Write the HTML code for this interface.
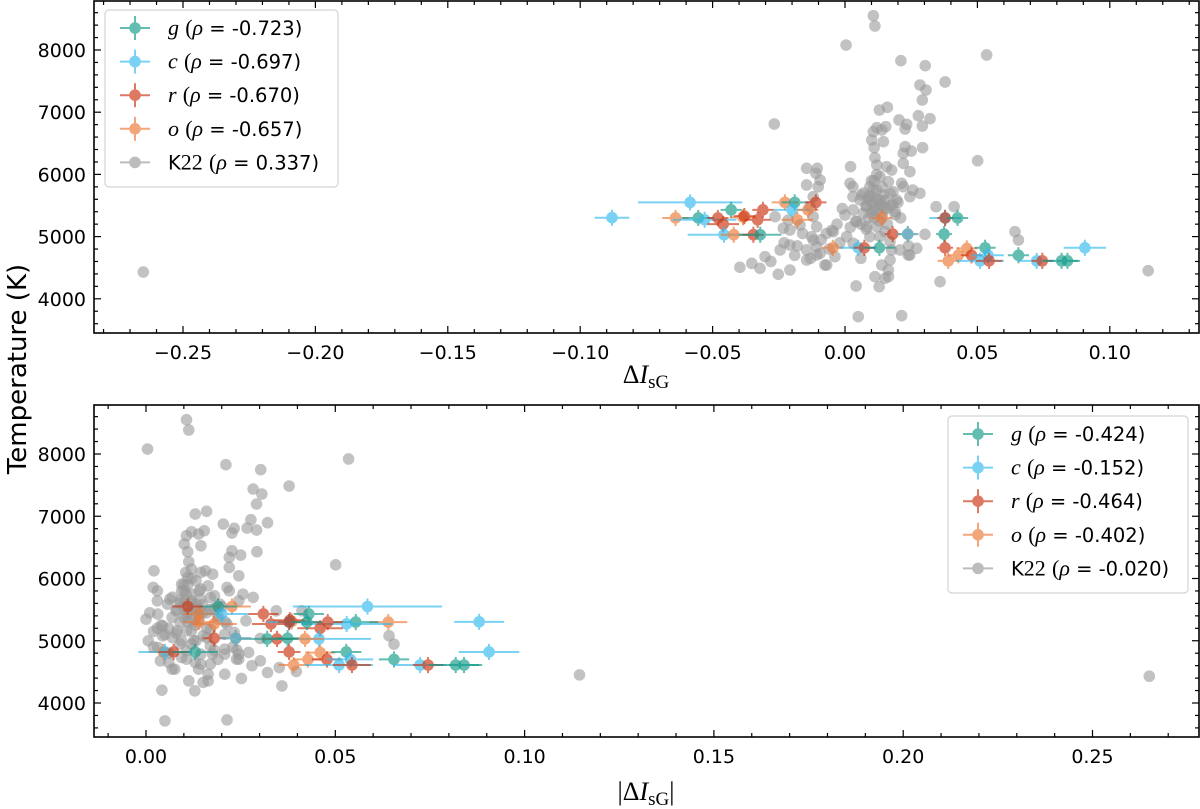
<!DOCTYPE html>
<html><head><meta charset="utf-8"><style>
body{margin:0;background:#fff;}
svg{display:block;font-family:"DejaVu Sans","Liberation Sans",sans-serif;}
</style></head><body>
<svg id="fig" width="1200" height="809" viewBox="0 0 1200 809">
<text x="26" y="369" transform="rotate(-90 26 369)" text-anchor="middle" font-size="26">Temperature (K)</text>
</svg>
<script>
// Colored series (signed ΔI_sG, temperature, x error, band)
const bandNames = ['g','c','r','o'];
const bandColors = ['#109a88','#33bbee','#cc3311','#ee7733'];
const topRho = ['-0.723','-0.697','-0.670','-0.657','0.337'];
const botRho = ['-0.424','-0.152','-0.464','-0.402','-0.020'];
const colDx = [-0.088,-0.0585,-0.064,-0.0554,-0.053,-0.048,-0.046,-0.043,-0.0385,-0.038,-0.033,-0.031,-0.0457,-0.042,-0.0346,-0.032,-0.0227,-0.019,-0.020,-0.014,-0.011,-0.018,-0.0046,0.005,0.0073,0.013,0.0139,0.018,0.0237,0.0237,0.0378,0.0378,0.0425,0.0374,0.0378,0.039,0.0428,0.046,0.0478,0.0529,0.051,0.054,0.0544,0.0655,0.0724,0.0745,0.0818,0.084,0.0906];
const colT  = [5304,5550,5300,5300,5270,5300,5200,5430,5310,5330,5270,5430,5030,5030,5030,5030,5550,5550,5430,5430,5550,5270,4820,4820,4820,4820,5300,5040,5040,5040,5300,5300,5300,5040,4820,4610,4700,4810,4700,4820,4610,4700,4610,4700,4610,4610,4610,4610,4820];
const colXe = [0.0066,0.0197,0.005,0.006,0.012,0.004,0.006,0.004,0.005,0.004,0.005,0.004,0.0137,0.005,0.004,0.008,0.005,0.005,0.007,0.004,0.004,0.006,0.004,0.007,0.004,0.006,0.004,0.003,0.004,0.004,0.006,0.003,0.004,0.003,0.003,0.004,0.004,0.004,0.004,0.004,0.009,0.006,0.005,0.004,0.007,0.004,0.007,0.004,0.008];
const colBand = [1,1,3,0,1,2,2,0,3,2,2,2,1,3,2,0,3,0,1,3,2,3,3,1,2,0,3,2,3,1,1,2,0,0,2,3,3,3,2,0,1,1,2,0,1,2,0,0,1];
// K22 grey points
const kDx = [0.0107,0.0113,0.0004,0.0211,0.0303,0.0535,0.0378,0.0283,0.0306,0.0292,-0.0267,0.013,0.016,0.0277,0.0321,0.0204,0.0233,0.0227,0.0292,0.012,0.0154,0.0107,0.0139,0.0101,0.0145,0.011,0.0227,0.025,0.0293,0.022,0.0501,0.0113,-0.0145,-0.0105,-0.011,-0.0094,-0.0101,0.0021,0.012,0.0157,0.0176,0.022,0.0245,0.0019,0.0132,0.0164,0.0214,0.0256,0.0283,0.0106,0.0144,0.0181,0.003,0.0063,0.0094,0.012,0.0101,0.0132,0.0107,0.017,0.0195,0.022,0.0245,0.0057,0.0031,0.0069,0.0044,0.0082,0.012,0.0151,0.0094,0.0132,0.017,0.0176,0.0208,0.0239,0.017,0.0139,0.0164,0.0113,0.0151,0.0042,0.0129,-0.0145,-0.012,-0.0132,-0.012,-0.0107,-0.0126,-0.0107,-0.0107,-0.0044,0.0,0.0006,0.0031,-0.0038,-0.0069,-0.0145,-0.0233,-0.0208,-0.0245,-0.0208,-0.0302,-0.0321,-0.0352,-0.0397,-0.0252,-0.0208,-0.0076,-0.0145,-0.0094,-0.0264,-0.0214,-0.017,-0.012,0.005,0.0214,0.0642,0.0655,0.0359,0.1145,0.0344,0.0412,0.0302,0.0271,0.0245,0.0164,-0.265,0.008,0.015,0.009,0.019,0.007,-0.005,-0.002,0.004,0.018,0.011,
  0.010,0.012,0.014,0.009,0.011,0.013,0.015,0.008,0.010,0.012,0.014,0.016,0.009,0.011,0.013,0.006,0.008,-0.003,-0.007,-0.009,-0.016,-0.019,-0.023,-0.028,-0.006,0.002,0.019,0.021,0.017,0.010,0.012,0.014,-0.001,0.016,0.006,0.024,-0.013,-0.018,0.003,0.020];
const kT  = [8551,8386,8080,7828,7748,7920,7486,7437,7357,7196,6810,7035,7079,6944,6896,6875,6806,6730,6778,6751,6767,6687,6714,6553,6526,6430,6445,6376,6430,6339,6220,6269,6098,6098,6018,5910,5802,6124,6151,6124,6070,6178,6044,5857,5963,5883,5857,5749,5696,5749,5669,5722,5642,5669,5802,5749,5642,5588,5428,5696,5588,5802,5642,5588,5428,5374,5240,5160,5160,5079,4999,4999,4918,4785,4785,4704,4624,4543,4463,4356,4330,4206,4195,5830,5642,5481,5320,5160,4999,4838,4704,5079,5347,4999,4892,4677,4543,4624,5134,5106,4785,4865,4677,4490,4570,4506,4394,4463,4543,4785,4731,5320,5267,5186,4945,3713,3729,5079,4945,4275,4452,5481,5481,5037,4812,4704,4356,4430,5500,5450,5600,5350,5700,5100,4900,5250,5520,5900,
  5550,5600,5500,5650,5450,5520,5580,5480,5380,5420,5350,5450,5300,5300,5250,5200,5120,5200,5050,4950,5050,4700,4900,4600,4800,5150,5400,5300,5500,5900,6000,5800,5450,5200,4650,4850,4650,4850,5800,5550];
const xTicksTop = [-0.25,-0.20,-0.15,-0.10,-0.05,0.00,0.05,0.10];
const xTicksBot = [0.00,0.05,0.10,0.15,0.20,0.25];
const yTicks = [4000,5000,6000,7000,8000];

const NS='http://www.w3.org/2000/svg';
const svg=document.getElementById('fig');
function el(tag,attrs,parent){const e=document.createElementNS(NS,tag);for(const k in attrs)e.setAttribute(k,attrs[k]);(parent||svg).appendChild(e);return e;}

function panel(cfg){
  const g=el('g',{});
  
  
  const L=94,R=1199,T=cfg.top,B=cfg.bot;
  const sx=v=>cfg.x0+v*cfg.kx;
  const sy=t=>cfg.y8000+(8000-t)*cfg.ky;
  const clipId='clip'+cfg.name;
  const cp=el('clipPath',{id:clipId},g);el('rect',{x:L,y:T,width:R-L,height:B-T},cp);
  const plot=el('g',{'clip-path':'url(#'+clipId+')'},g);
  for(let i=0;i<kDx.length;i++){
    const x=cfg.abs?Math.abs(kDx[i]):kDx[i];
    const c=el('circle',{cx:sx(x),cy:sy(kT[i]),r:5.8,fill:'#999',opacity:0.6},plot);
    
    
  }
  for(let i=0;i<colDx.length;i++){
    const x=cfg.abs?Math.abs(colDx[i]):colDx[i];
    const col=bandColors[colBand[i]];
    const gg=el('g',{opacity:0.65},plot);
    
    
    const cx=sx(x),cy=sy(colT[i]);
    el('line',{x1:sx(x-colXe[i]),x2:sx(x+colXe[i]),y1:cy,y2:cy,stroke:col,'stroke-width':2},gg);
    el('line',{x1:cx,x2:cx,y1:sy(colT[i]+130),y2:sy(colT[i]-130),stroke:col,'stroke-width':2},gg);
    el('circle',{cx:cx,cy:cy,r:5.8,fill:col},gg);
  }
  const tk=el('g',{stroke:'#000','stroke-width':1.2},g);
  for(let v=cfg.xmin;v<=cfg.xmax+1e-9;v+=0.01){
    const x=sx(Math.round(v*100)/100);if(x<L||x>R)continue;
    const maj=Math.abs(Math.round(v*100)%5)===0;const len=maj?7:4;
    el('line',{x1:x,x2:x,y1:B,y2:B-len},tk);el('line',{x1:x,x2:x,y1:T,y2:T+len},tk);
  }
  for(let t=3400;t<=8800;t+=200){
    const y=sy(t);if(y<T||y>B)continue;const len=t%1000===0?7:4;
    el('line',{x1:L,x2:L+len,y1:y,y2:y},tk);el('line',{x1:R,x2:R-len,y1:y,y2:y},tk);
  }
  el('rect',{x:L,y:T,width:R-L,height:B-T,fill:'none',stroke:'#000','stroke-width':1.6},g);
  const ticks=cfg.abs?xTicksBot:xTicksTop;
  ticks.forEach(v=>{const t=el('text',{x:sx(v),y:B+26,'text-anchor':'middle','font-size':19},g);
    t.textContent=(v<0?'\u2212':'')+Math.abs(v).toFixed(2);
    });
  yTicks.forEach(v=>{const t=el('text',{x:86,y:sy(v)+7,'text-anchor':'end','font-size':19},g);
    t.textContent=v;});
  const xl=el('text',{x:646,y:cfg.xlY,'text-anchor':'middle','font-size':26,'font-family':'Liberation Serif, serif'},g);
  
  xl.innerHTML=(cfg.abs?'|':'')+'Δ<tspan font-style="italic">I</tspan><tspan font-size="19" dy="5">sG</tspan>'+(cfg.abs?'<tspan dy="-5">|</tspan>':'');
  const lg=el('g',{},g);
  el('rect',{x:cfg.lx,y:cfg.ly,width:cfg.lw,height:177,rx:4,fill:'#fff',stroke:'#d0d0d0','stroke-width':1.2,opacity:0.9},lg);
  const rho=cfg.abs?botRho:topRho;
  for(let i=0;i<5;i++){
    const y=cfg.ly+18+i*33.6, mx=cfg.lx+30;
    const col=i<4?bandColors[i]:'#999';
    const e=el('g',{opacity:0.65},lg);
    
    el('line',{x1:mx-15,x2:mx+15,y1:y,y2:y,stroke:col,'stroke-width':2},e);
    if(i<4)el('line',{x1:mx,x2:mx,y1:y-12,y2:y+12,stroke:col,'stroke-width':2},e);
    el('circle',{cx:mx,cy:y,r:5.8,fill:col},e);
    const t=el('text',{x:cfg.lx+63,y:y+7,'font-size':19.5},lg);
    
    const nm=i<4?'<tspan font-family="Liberation Serif, serif" font-style="italic" font-size="22">'+bandNames[i]+'</tspan>':'K<tspan font-family="Liberation Serif, serif" font-size="22">22</tspan>';
    t.innerHTML=nm+' <tspan font-family="Liberation Serif, serif" font-size="22">(<tspan font-style="italic">ρ</tspan></tspan> = '+rho[i]+')';
  }
}
panel({name:'top-panel',top:1,bot:333,x0:845,kx:2648,y8000:50,ky:0.0622,xmin:-0.30,xmax:0.14,abs:false,xlY:383,lx:105,ly:10,lw:233});
panel({name:'bottom-panel',top:405,bot:737,x0:146,kx:3786,y8000:454,ky:0.06225,xmin:-0.02,xmax:0.28,abs:true,xlY:800,lx:948,ly:416,lw:240});
</script>
</body></html>
